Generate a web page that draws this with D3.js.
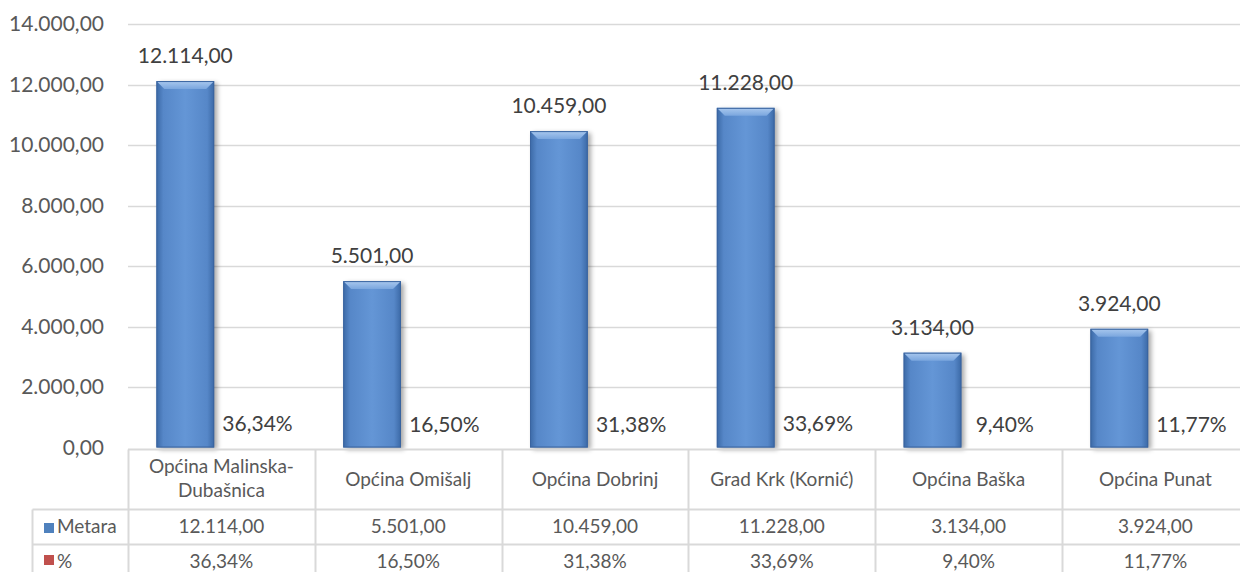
<!DOCTYPE html>
<html>
<head>
<meta charset="utf-8">
<script src="https://cdn.jsdelivr.net/npm/d3@7"></script>
<style>
  body { margin: 0; background: #fff; }
  svg text { font-family: Lato, "Open Sans", sans-serif; }
</style>
</head>
<body>
<svg class="chart"></svg>
<script>
const width = 1240;
const height = 572;

const categories = ["Općina Malinska-Dubašnica", "Općina Omišalj", "Općina Dobrinj", "Grad Krk (Kornić)", "Općina Baška", "Općina Punat"];
const categoryLines = [["Općina Malinska-", "Dubašnica"], ["Općina Omišalj"], ["Općina Dobrinj"], ["Grad Krk (Kornić)"], ["Općina Baška"], ["Općina Punat"]];
const metara = [12114, 5501, 10459, 11228, 3134, 3924];
const percent = [36.34, 16.50, 31.38, 33.69, 9.40, 11.77];
const seriesNames = ["Metara", "%"];
const yTicks = [0, 2000, 4000, 6000, 8000, 10000, 12000, 14000];

const fmtNum = v => v.toFixed(2).replace(/\B(?=(\d{3})+(?!\d))/g, "#").replace(".", ",").replace(/#/g, ".");
const fmtPct = v => v.toFixed(2).replace(".", ",") + "%";

const svg = d3.select(".chart").attr("width", width).attr("height", height);
const defs = svg.append("defs");

// bar body: darker edges, lighter middle
const body = defs.append("linearGradient").attr("id", "barBody").attr("x1", 0).attr("x2", 1);
[[0, "#3b69a6"], [0.12, "#5687c8"], [0.5, "#6496d6"], [0.88, "#5687c8"], [1, "#3b69a6"]]
  .forEach(s => body.append("stop").attr("offset", s[0]).attr("stop-color", s[1]));
const bevel = defs.append("linearGradient").attr("id", "barTop").attr("x1", 0).attr("x2", 0).attr("y1", 0).attr("y2", 1);
[[0, "#a9c8ee"], [1, "#7aa6de"]].forEach(s => bevel.append("stop").attr("offset", s[0]).attr("stop-color", s[1]));
defs.append("filter").attr("id", "shadow").attr("x", "-20%").attr("width", "140%")
  .append("feGaussianBlur").attr("stdDeviation", 2.5);

const plotLeft = 128, colW = 186.8;
const x = d3.scaleBand().domain(categories).range([plotLeft, plotLeft + colW * categories.length]).padding(0);
const x1 = d3.scaleBand().domain(seriesNames)
  .range([x.bandwidth() / 2 - 65, x.bandwidth() / 2 + 65]).paddingInner(0.2);
const y = d3.scaleLinear().domain([0, 14000]).range([447.5, 24]);

// gridlines + axis labels
const yAxis = d3.axisLeft(y).tickValues(yTicks).tickSize(0).tickPadding(0).tickFormat(fmtNum);
const yg = svg.append("g").attr("transform", "translate(104,0)").call(yAxis);
yg.select(".domain").remove();
yg.selectAll("text").attr("font-size", 21).attr("fill", "#595959").attr("font-family", "Lato, sans-serif");

svg.append("g").selectAll("line").data(yTicks.filter(d => d > 0)).enter().append("line")
  .attr("x1", plotLeft).attr("x2", width)
  .attr("y1", d => Math.round(y(d)) + 0.5).attr("y2", d => Math.round(y(d)) + 0.5)
  .attr("stroke", "#d9d9d9").attr("stroke-width", 1.5);

// bars
const bw = x1.bandwidth();
const bars = svg.append("g").selectAll("g").data(categories).enter().append("g")
  .attr("transform", d => `translate(${x(d) + x1("Metara")},0)`);
bars.append("rect").attr("x", 3).attr("y", (d, i) => y(metara[i]) + 2)
  .attr("width", bw).attr("height", (d, i) => y(0) - y(metara[i]))
  .attr("fill", "#000").attr("opacity", 0.35).attr("filter", "url(#shadow)");
bars.append("rect").attr("x", 0).attr("y", (d, i) => y(metara[i]))
  .attr("width", bw).attr("height", (d, i) => y(0) - y(metara[i]))
  .attr("fill", "url(#barBody)");
const bv = 8;
bars.append("polygon").attr("points", (d, i) => {
  const t = y(metara[i]);
  return [[0, t], [bw, t], [bw - bv, t + bv], [bv, t + bv]].map(p => p.join(",")).join(" ");
}).attr("fill", "url(#barTop)");
bars.append("rect").attr("x", 0.5).attr("y", (d, i) => y(metara[i]) + 0.5)
  .attr("width", bw - 1).attr("height", (d, i) => y(0) - y(metara[i]) - 1)
  .attr("fill", "none").attr("stroke", "#3a64a0").attr("stroke-width", 1);

// value labels
svg.append("g").selectAll("text").data(categories).enter().append("text")
  .attr("x", d => x(d) + x1("Metara") + bw / 2)
  .attr("y", (d, i) => y(metara[i]) - 18)
  .attr("text-anchor", "middle").attr("font-size", 21).attr("fill", "#404040")
  .text((d, i) => fmtNum(metara[i]));
// % series is ~0 high on this scale; only its labels show
svg.append("g").selectAll("text").data(categories).enter().append("text")
  .attr("x", d => x(d) + x1("%") + bw / 2)
  .attr("y", (d, i) => y(percent[i]) - 15)
  .attr("text-anchor", "middle").attr("font-size", 21).attr("fill", "#404040")
  .text((d, i) => fmtPct(percent[i]));

// data table
const table = svg.append("g");
const grid = "#d9d9d9";
const tTop = 449.5, r1 = 509.5, r2 = 544.5, tBottom = 580, hdrLeft = 32.5;
const tRight = x.range()[1];
table.append("line").attr("x1", plotLeft).attr("x2", tRight).attr("y1", tTop).attr("y2", tTop);
table.append("line").attr("x1", hdrLeft).attr("x2", tRight).attr("y1", r1).attr("y2", r1);
table.append("line").attr("x1", hdrLeft).attr("x2", tRight).attr("y1", r2).attr("y2", r2);
table.append("line").attr("x1", hdrLeft).attr("x2", hdrLeft).attr("y1", r1).attr("y2", tBottom);
table.selectAll(".vline").data(categories).enter().append("line").attr("class", "vline")
  .attr("x1", d => Math.round(x(d)) + 0.5).attr("x2", d => Math.round(x(d)) + 0.5)
  .attr("y1", tTop).attr("y2", tBottom);
table.selectAll("line").attr("stroke", grid).attr("stroke-width", 2);

const cells = table.append("g").selectAll("g").data(categories).enter().append("g")
  .attr("transform", d => `translate(${x(d) + x.bandwidth() / 2},0)`)
  .attr("text-anchor", "middle").attr("font-size", 19).attr("fill", "#595959");
cells.append("text").each(function (d, i) {
  const lines = categoryLines[i];
  const t = d3.select(this);
  lines.forEach((l, k) => t.append("tspan").attr("x", 0)
    .attr("y", lines.length === 1 ? 486 : 473 + k * 24).text(l));
});
cells.append("text").attr("y", 533).text((d, i) => fmtNum(metara[i]));
cells.append("text").attr("y", 568).text((d, i) => fmtPct(percent[i]));

// legend keys in row headers
const keys = [["Metara", "#4f81bd", 523, 533], ["%", "#c0504d", 555, 568]];
keys.forEach(k => {
  table.append("rect").attr("x", 44).attr("y", k[2]).attr("width", 10).attr("height", 10).attr("fill", k[1]);
  table.append("text").attr("x", 57).attr("y", k[3]).attr("font-size", 19).attr("fill", "#595959").text(k[0]);
});
</script>
</body>
</html>
